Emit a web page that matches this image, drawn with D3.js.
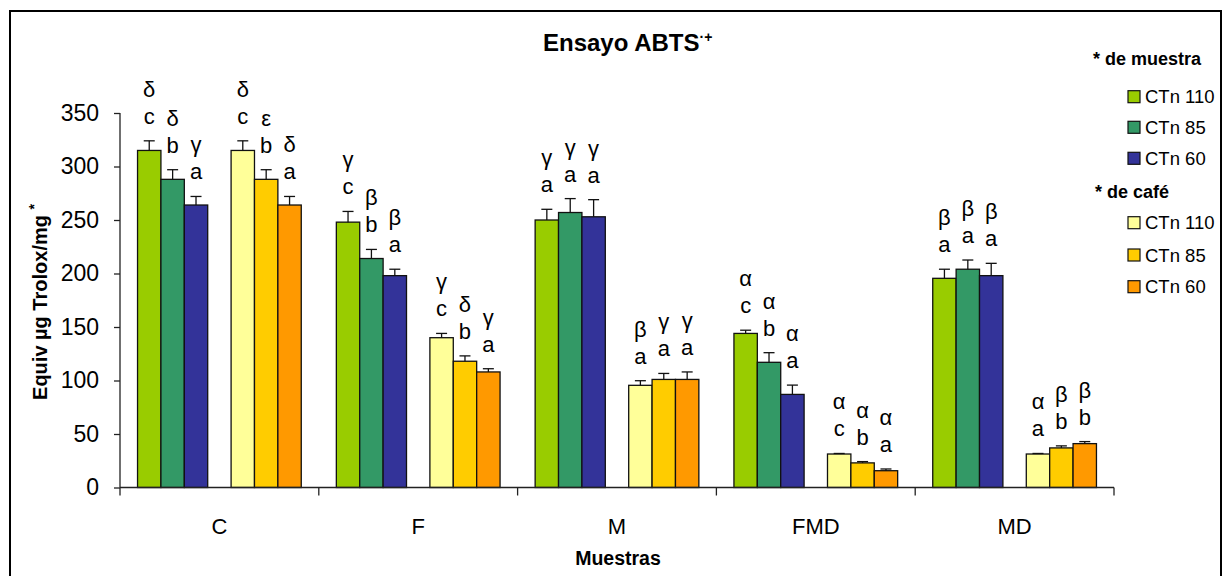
<!DOCTYPE html>
<html>
<head>
<meta charset="utf-8">
<script src="https://cdn.jsdelivr.net/npm/d3@7/dist/d3.min.js"></script>
<style>
  html, body { margin: 0; padding: 0; background: #fff; }
  svg { display: block; font-family: Arial, "Liberation Sans", sans-serif; }
</style>
</head>
<body>
<svg id="chart" width="1223" height="576"></svg>
<script>
// ---------- data ----------
const categories = ["C", "F", "M", "FMD", "MD"];
const slotKeys = ["m110", "m85", "m60", "gap", "c110", "c85", "c60"];
const seriesKeys = ["m110", "m85", "m60", "c110", "c85", "c60"];
const seriesNames = ["CTn 110", "CTn 85", "CTn 60", "CTn 110", "CTn 85", "CTn 60"];
const seriesColors = ["#99CC00", "#339966", "#333399", "#FFFF99", "#FFCC00", "#FF9900"];
const legendGroups = ["* de muestra", "* de café"];

const muestra110 = [315, 248, 250, 144, 195.5];
const muestra85  = [288, 214, 257, 117, 204];
const muestra60  = [264, 198, 253, 87, 198];
const cafe110    = [315, 140, 95.5, 31.3, 31.3];
const cafe85     = [288, 118, 101, 23, 37];
const cafe60     = [264, 108, 101, 15.7, 41];

const muestra110Err = [9, 10, 10, 3, 8.5];
const muestra85Err  = [9, 8.5, 13, 9, 8.6];
const muestra60Err  = [8, 6, 16, 8.7, 11.5];
const cafe110Err    = [9, 4, 4.3, 0.5, 0.5];
const cafe85Err     = [9, 5, 5.6, 1.2, 1.9];
const cafe60Err     = [8, 3, 7, 1.6, 1.9];

// significance letters (latin row, greek row) per series, by category
const muestra110Lat = ["c", "c", "a", "c", "a"];
const muestra85Lat  = ["b", "b", "a", "b", "a"];
const muestra60Lat  = ["a", "a", "a", "a", "a"];
const cafe110Lat    = ["c", "c", "a", "c", "a"];
const cafe85Lat     = ["b", "b", "a", "b", "b"];
const cafe60Lat     = ["a", "a", "a", "a", "b"];
const muestra110Grk = ["δ", "γ", "γ", "α", "β"];
const muestra85Grk  = ["δ", "β", "γ", "α", "β"];
const muestra60Grk  = ["γ", "β", "γ", "α", "β"];
const cafe110Grk    = ["δ", "γ", "β", "α", "α"];
const cafe85Grk     = ["ε", "δ", "γ", "α", "β"];
const cafe60Grk     = ["δ", "γ", "γ", "α", "β"];

const yTicks = [0, 50, 100, 150, 200, 250, 300, 350];

const values = [muestra110, muestra85, muestra60, cafe110, cafe85, cafe60];
const errors = [muestra110Err, muestra85Err, muestra60Err, cafe110Err, cafe85Err, cafe60Err];
const latins = [muestra110Lat, muestra85Lat, muestra60Lat, cafe110Lat, cafe85Lat, cafe60Lat];
const greeks = [muestra110Grk, muestra85Grk, muestra60Grk, cafe110Grk, cafe85Grk, cafe60Grk];

// ---------- layout ----------
const svg = d3.select("#chart");
const plotLeft = 120, plotRight = 1114, plotTop = 113, plotBottom = 487.5;

// outer frame
svg.append("rect").attr("x", 10).attr("y", 11).attr("width", 1211).attr("height", 620)
  .attr("fill", "none").attr("stroke", "#000").attr("stroke-width", 2);

const x0 = d3.scaleBand().domain(categories).range([plotLeft, plotRight]).paddingInner(0).paddingOuter(0);
const x1 = d3.scaleBand().domain(slotKeys).range([0, x0.bandwidth()]).paddingInner(0).paddingOuter(0.75);
const y = d3.scaleLinear().domain([0, 350]).range([plotBottom, plotTop]);

// data rows
const rows = [];
categories.forEach((c, ci) => {
  seriesKeys.forEach((k, si) => {
    rows.push({cat: c, key: k, si, v: values[si][ci], e: errors[si][ci],
               lat: latins[si][ci], grk: greeks[si][ci]});
  });
});

// bars
svg.append("g").selectAll("rect").data(rows).join("rect")
  .attr("x", d => x0(d.cat) + x1(d.key))
  .attr("y", d => y(d.v))
  .attr("width", x1.bandwidth())
  .attr("height", d => y(0) - y(d.v))
  .attr("fill", d => seriesColors[d.si])
  .attr("stroke", "#111").attr("stroke-width", 1.3);

// error bars (upper)
const eg = svg.append("g").attr("stroke", "#111").attr("stroke-width", 1.3);
rows.forEach(d => {
  const cx = x0(d.cat) + x1(d.key) + x1.bandwidth() / 2;
  eg.append("line").attr("x1", cx).attr("x2", cx).attr("y1", y(d.v)).attr("y2", y(d.v + d.e));
  eg.append("line").attr("x1", cx - 5.5).attr("x2", cx + 5.5).attr("y1", y(d.v + d.e)).attr("y2", y(d.v + d.e));
});

// letters
const lg = svg.append("g").attr("font-size", 22).attr("fill", "#000").attr("text-anchor", "middle");
rows.forEach(d => {
  const cx = x0(d.cat) + x1(d.key) + x1.bandwidth() / 2;
  const base = y(d.v + d.e) - 17;
  lg.append("text").attr("x", cx).attr("y", base).text(d.lat);
  lg.append("text").attr("x", cx).attr("y", base - 27).text(d.grk);
});

// y axis
const yAxis = d3.axisLeft(y).tickValues(yTicks).tickSize(6).tickPadding(15);
const gy = svg.append("g").attr("transform", `translate(${plotLeft},0)`).call(yAxis);
gy.select(".domain").attr("stroke", "#222").attr("stroke-width", 1.3).attr("d", `M0,${plotTop}V${plotBottom}`);
gy.selectAll(".tick line").attr("stroke", "#222").attr("stroke-width", 1.3);
gy.selectAll(".tick text").attr("font-size", 23).attr("font-family", "Arial, 'Liberation Sans', sans-serif").attr("fill", "#000");

// x axis
const xAxis = d3.axisBottom(x0).tickSize(0).tickPadding(31);
const gx = svg.append("g").attr("transform", `translate(0,${plotBottom})`).call(xAxis);
gx.select(".domain").attr("stroke", "#222").attr("stroke-width", 1.3).attr("d", `M${plotLeft},0H${plotRight}`);
gx.selectAll(".tick text").attr("font-size", 22).attr("font-family", "Arial, 'Liberation Sans', sans-serif").attr("fill", "#000");
const boundaries = categories.map(c => x0(c)).concat([x0.range()[1]]);
gx.selectAll(".bound").data(boundaries).join("line").attr("class", "bound")
  .attr("x1", d => d).attr("x2", d => d).attr("y1", 0).attr("y2", 8)
  .attr("stroke", "#222").attr("stroke-width", 1.3);

// title
const title = svg.append("text").attr("x", 543).attr("y", 50.5)
  .attr("font-size", 24).attr("font-weight", "bold").attr("fill", "#000");
title.append("tspan").text("Ensayo ABTS");
title.append("tspan").attr("font-size", 14).attr("dy", -9).text("·+");

// axis titles
svg.append("text").attr("transform", "translate(47,302) rotate(-90)")
  .attr("text-anchor", "middle").attr("font-size", 20).attr("font-weight", "bold")
  .call(t => { t.append("tspan").text("Equiv µg Trolox/mg ");
               t.append("tspan").attr("font-size", 14).attr("dy", -8).text("*"); });
svg.append("text").attr("x", 618).attr("y", 565).attr("text-anchor", "middle")
  .attr("font-size", 19.5).attr("font-weight", "bold").text("Muestras");

// legend
const legendItemY = [[96.7, 127.3, 158.3], [222.7, 255, 286.7]];
const legendHeadY = [65, 197.7];
const legendHeadX = [1093, 1095];
const leg = svg.append("g");
legendGroups.forEach((g, gi) => {
  leg.append("text").attr("x", legendHeadX[gi]).attr("y", legendHeadY[gi])
    .attr("font-size", 18).attr("font-weight", "bold").text(g);
  for (let i = 0; i < 3; i++) {
    const si = gi * 3 + i;
    const cy = legendItemY[gi][i];
    leg.append("rect").attr("x", 1128).attr("y", cy - 6).attr("width", 12).attr("height", 12)
      .attr("fill", seriesColors[si]).attr("stroke", "#111").attr("stroke-width", 1.2);
    leg.append("text").attr("x", 1145).attr("y", cy + 6.5).attr("font-size", 18.5).text(seriesNames[si]);
  }
});
</script>
</body>
</html>
